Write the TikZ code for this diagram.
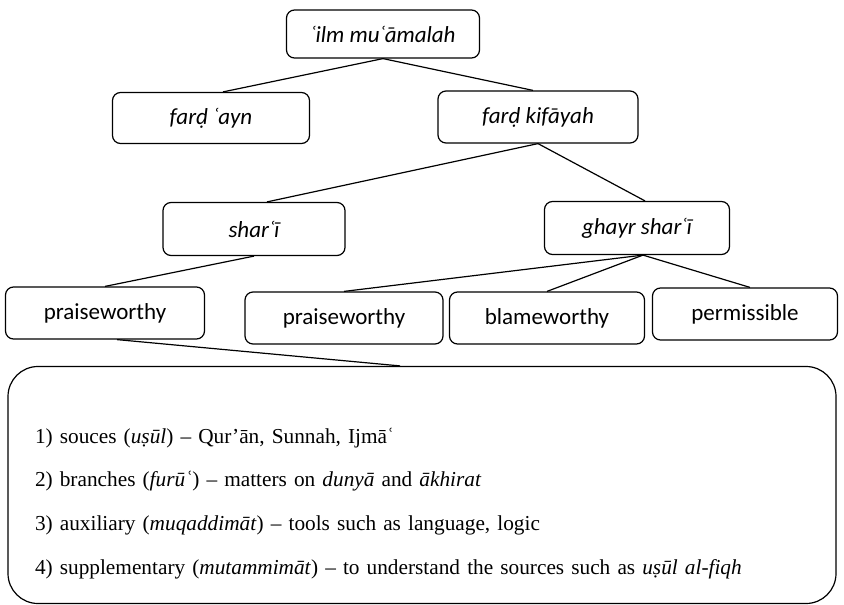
\documentclass[tikz,border=0pt]{standalone}
\usepackage{fontspec}
\setmainfont[WordSpace=0.85]{Liberation Serif}
\newfontfamily\boxfont{Carlito}
\usetikzlibrary{positioning,calc}
\tikzstyle{term_node} =[draw,rectangle,rounded corners=8pt,line width=1.2pt,minimum height=52pt,font=\boxfont\fontsize{23}{27}\selectfont\itshape]
\tikzstyle{judgement_node} =[term_node,font=\boxfont\fontsize{23}{27}\selectfont\upshape]
\tikzstyle{sciences_frame} =[draw,rectangle,rounded corners=30pt,line width=1.2pt,align=left,text width=774pt,inner xsep=27pt,inner ysep=20pt,minimum height=237pt,font=\fontsize{21.3}{43.7}\selectfont]
\tikzstyle{branch_line} =[line width=1.2pt]

\begin{document}
\begin{tikzpicture}[x=1pt,y=-1pt]
    \useasboundingbox (0,0) rectangle (844,605);

    % Upper levels
    \node[term_node,minimum width=193pt,minimum height=48pt] (ilm_muamalah) at (383,34) {ʿilm muʿāmalah};
    \node[term_node,minimum width=197pt,minimum height=51pt] (fard_ayn) at (211,118) {farḍ ʿayn};
    \node[term_node,minimum width=200pt] (fard_kifayah) at (538,117) {farḍ kifāyah};
    \node[term_node,minimum width=182pt,minimum height=53pt] (shari_node) at (254,229) {sharʿī};
    \node[term_node,minimum width=185pt,minimum height=53pt] (ghayr_shari_node) at (637,228) {ghayr sharʿī};

    % Lowest level
    \node[judgement_node,minimum width=199pt] (shari_praiseworthy) at (105,313) {praiseworthy};
    \node[judgement_node,minimum width=198pt] (ghayr_praiseworthy) at (344,318) {praiseworthy};
    \node[judgement_node,minimum width=195pt] (ghayr_blameworthy) at (547,318) {blameworthy};
    \node[judgement_node,minimum width=185pt] (ghayr_permissible) at (745,314) {permissible};

    % Frame with the four kinds of praiseworthy sciences
    \node[sciences_frame] (praiseworthy_sciences) at (422,485) {\rule{0pt}{52pt}1) souces (\textit{uṣūl}) – Qur’ān, Sunnah, Ijmāʿ\\
        2) branches (\textit{furūʿ}) – matters on \textit{dunyā} and \textit{ākhirat}\\
        3) auxiliary (\textit{muqaddimāt}) – tools such as language, logic\\
        4) supplementary (\textit{mutammimāt}) – to understand the sources such as \textit{uṣūl al-fiqh}};

    % Connections
    \draw[branch_line] (ilm_muamalah.south) -- ([xshift=12pt]fard_ayn.north);
    \draw[branch_line] (ilm_muamalah.south) -- ([xshift=-5pt]fard_kifayah.north);
    \draw[branch_line] (fard_kifayah.south) -- ([xshift=13pt]shari_node.north);
    \draw[branch_line] (fard_kifayah.south) -- ([xshift=8pt]ghayr_shari_node.north);
    \draw[branch_line] (shari_node.south) -- (shari_praiseworthy.north);
    \draw[branch_line] ([xshift=6pt]ghayr_shari_node.south) -- (ghayr_praiseworthy.north);
    \draw[branch_line] ([xshift=6pt]ghayr_shari_node.south) -- (ghayr_blameworthy.north);
    \draw[branch_line] ([xshift=6pt]ghayr_shari_node.south) -- ([xshift=5pt]ghayr_permissible.north);
    \draw[branch_line] ([xshift=12pt]shari_praiseworthy.south) -- ([xshift=-22pt]praiseworthy_sciences.north);

\end{tikzpicture}
\end{document}
